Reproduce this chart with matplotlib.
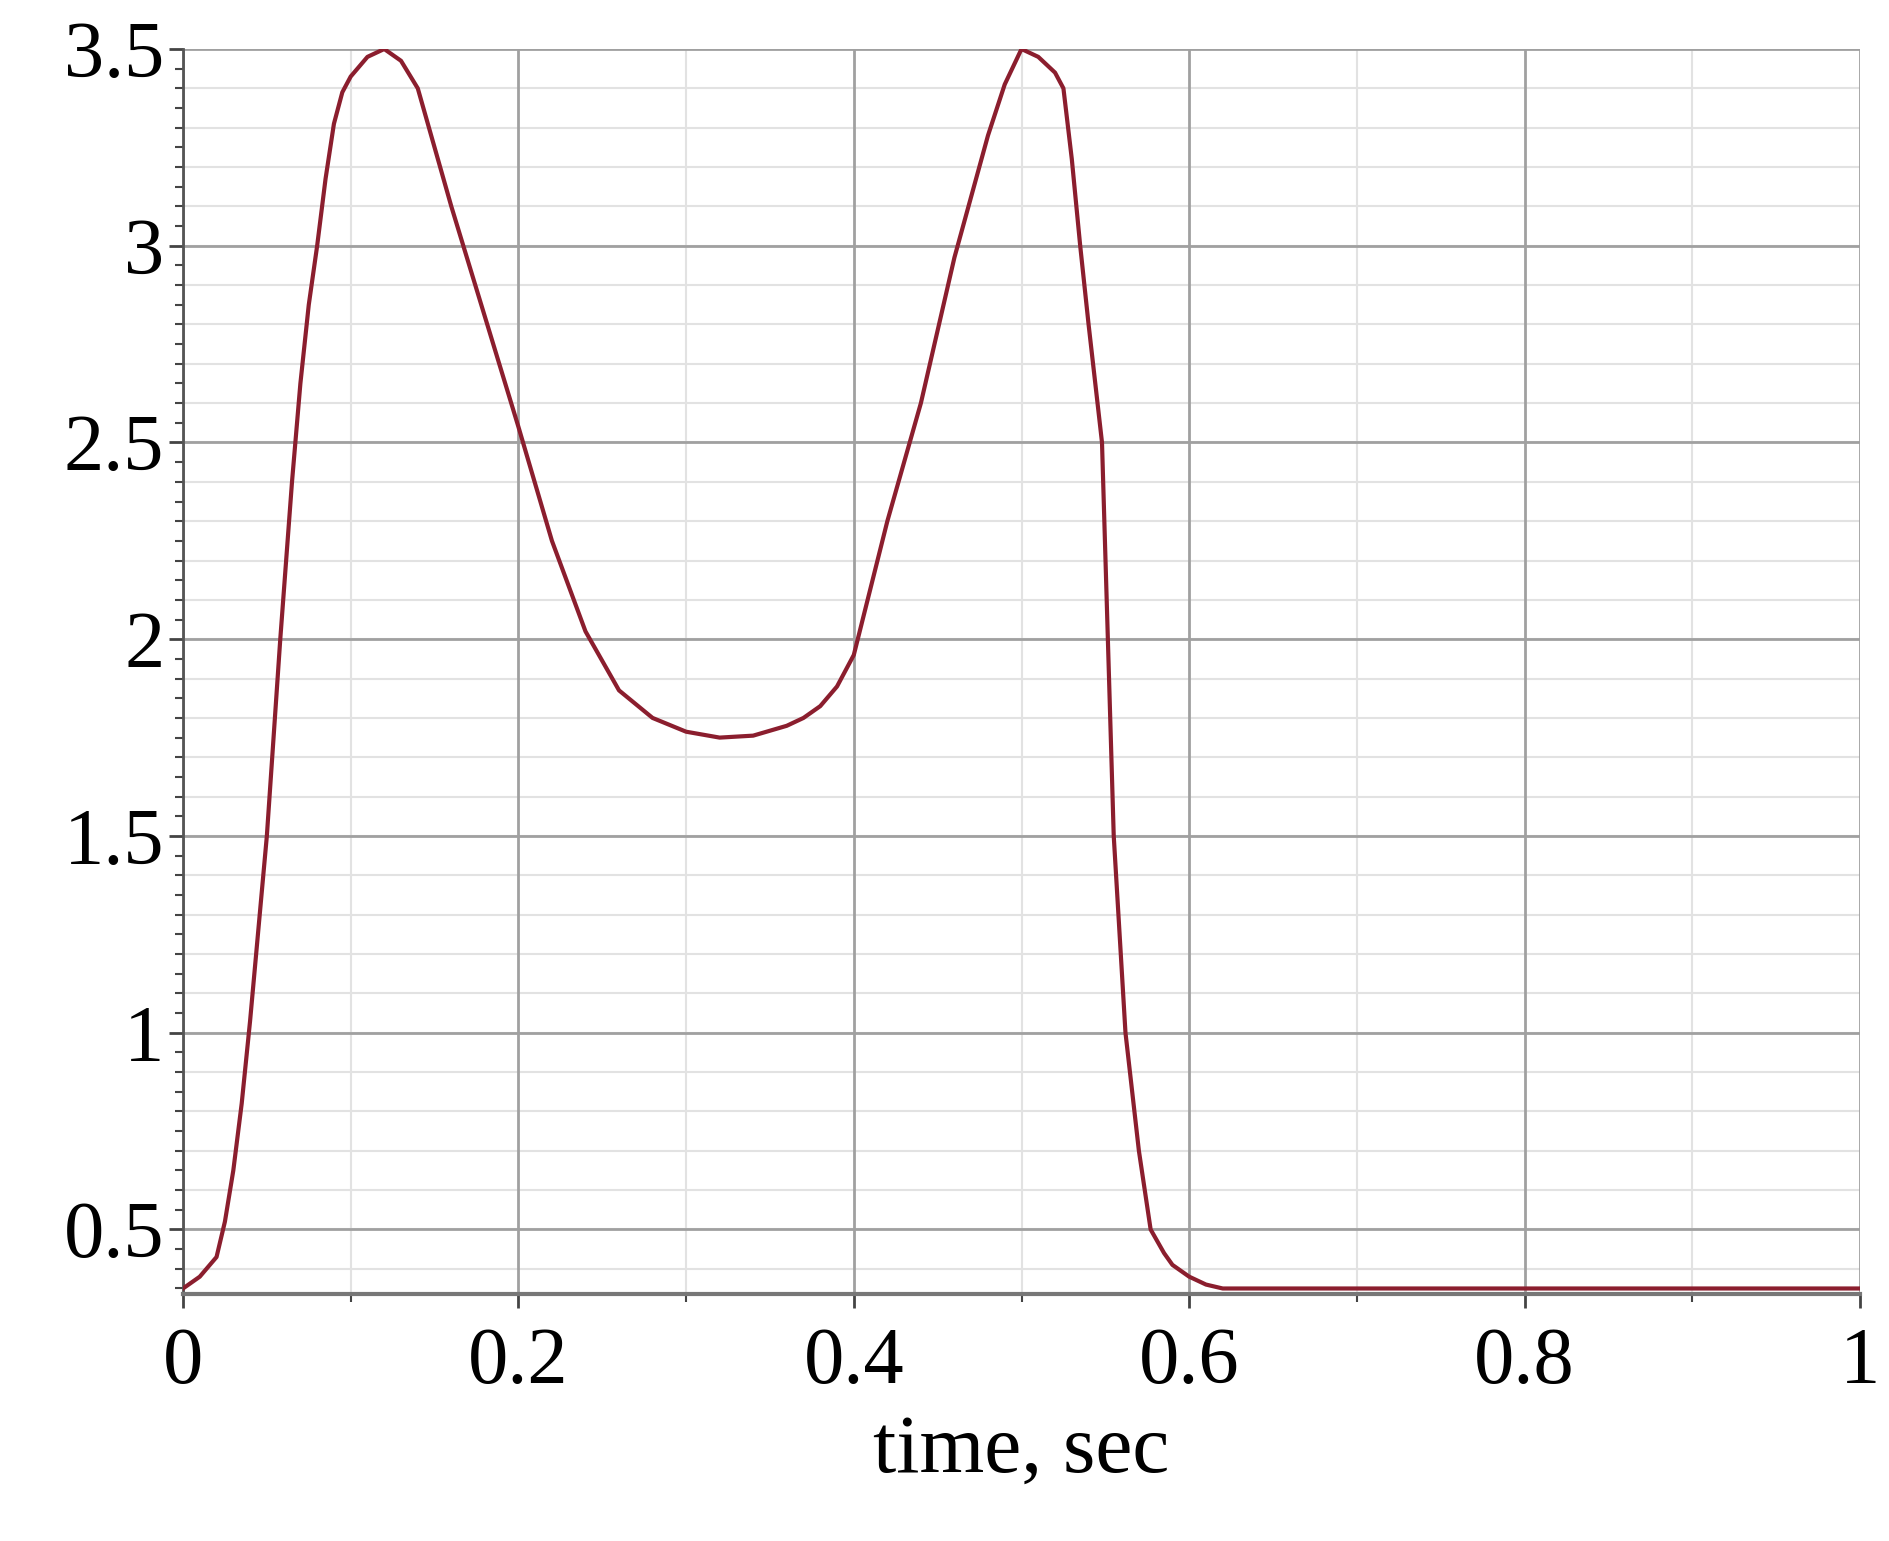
import numpy as np
import matplotlib.pyplot as plt
from matplotlib.ticker import MultipleLocator

# curve
t = [0.0, 0.01, 0.02, 0.025, 0.03, 0.035, 0.04, 0.05, 0.058, 0.065, 0.07, 0.075, 0.08, 0.085, 0.09, 0.095, 0.1,
     0.11, 0.12, 0.13, 0.14, 0.16, 0.18, 0.2, 0.22, 0.24, 0.26, 0.28, 0.3, 0.32, 0.34,
     0.36, 0.37, 0.38, 0.39, 0.4, 0.42, 0.44, 0.46, 0.48, 0.49, 0.5, 0.51, 0.52, 0.525, 0.53,
     0.535, 0.54, 0.548, 0.555, 0.562, 0.57, 0.577, 0.585, 0.59, 0.6, 0.61, 0.62, 0.7, 0.8, 1.0]
v = [0.35, 0.38, 0.43, 0.52, 0.65, 0.82, 1.03, 1.5, 2.0, 2.4, 2.65, 2.85, 3.0, 3.17, 3.31, 3.39, 3.43,
     3.48, 3.5, 3.47, 3.4, 3.1, 2.82, 2.54, 2.25, 2.02, 1.87, 1.8, 1.765, 1.75, 1.755,
     1.78, 1.80, 1.83, 1.88, 1.96, 2.3, 2.6, 2.97, 3.28, 3.41, 3.5, 3.48, 3.44, 3.4, 3.22,
     3.0, 2.8, 2.5, 1.5, 1.0, 0.7, 0.5, 0.44, 0.41, 0.38, 0.36, 0.35, 0.35, 0.35, 0.35]

plt.rcParams['font.family'] = ['Liberation Serif', 'DejaVu Serif']

fig = plt.figure(figsize=(18.89, 15.41), dpi=100)
ax = fig.add_axes([183 / 1889, 1 - 1294 / 1541, (1860 - 183) / 1889, (1294 - 49) / 1541])

# light grid every 0.1
for x in np.arange(0.1, 1.0, 0.2):
    ax.axvline(x, color='#e2e2e2', lw=1.5, zorder=0)
for y in np.arange(0.4, 3.45, 0.1):
    ax.axhline(y, color='#e2e2e2', lw=1.5, zorder=0)

ax.plot(t, v, color='#8b1e2e', lw=3, zorder=3)

ax.set_xlim(0, 1)
ax.set_ylim(0.336, 3.5)
ax.set_xticks([0, 0.2, 0.4, 0.6, 0.8, 1.0])
ax.set_xticklabels(['0', '0.2', '0.4', '0.6', '0.8', '1'])
ax.set_xticks(np.arange(0.1, 1.0, 0.2), minor=True)
ax.set_yticks([0.5, 1, 1.5, 2, 2.5, 3, 3.5])
ax.set_yticklabels(['0.5', '1', '1.5', '2', '2.5', '3', '3.5'])
ax.yaxis.set_minor_locator(MultipleLocator(0.05))
ax.grid(which='major', color='#a0a0a0', lw=2, zorder=1)

for s in ['top', 'right']:
    ax.spines[s].set_visible(False)
ax.spines['left'].set_color('#555555')
ax.spines['left'].set_linewidth(2)
ax.spines['bottom'].set_color('#777777')
ax.spines['bottom'].set_linewidth(3)

ax.tick_params(which='both', direction='out', colors='#444444', labelcolor='black', labelsize=58)
ax.tick_params(which='major', length=10, width=2)
ax.tick_params(which='minor', length=6, width=1.5)
ax.tick_params(axis='x', pad=14)

ax.set_xlabel('time, sec', fontsize=60, labelpad=10)

fig.savefig('out.png', dpi=100)
